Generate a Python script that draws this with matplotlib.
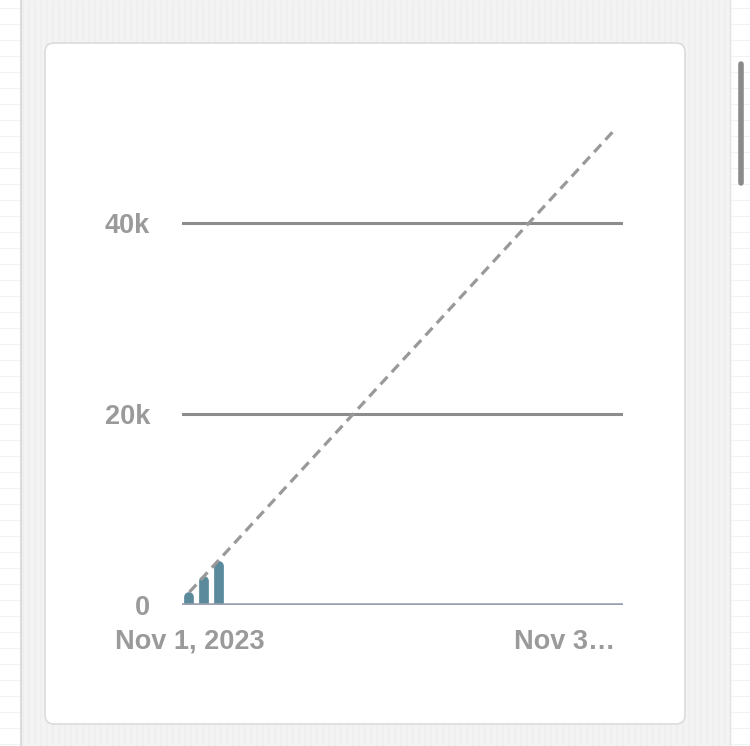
import matplotlib
matplotlib.use("Agg")
import matplotlib.pyplot as plt
from matplotlib.patches import Rectangle, FancyBboxPatch
from matplotlib.transforms import offset_copy

# data
days = list(range(30))                 # Nov 1 .. Nov 30
bar_days = [0, 1, 2]
bar_values = [1350, 3000, 4600]
trend_days = [0, 29]
trend_values = [1350, 49900]
y_ticks = [0, 20000, 40000]
y_labels = ["0", "20k", "40k"]
x_ticks = [0, 29]
x_labels = ["Nov 1, 2023", "Nov 3\u2026"]

bar_color = "#5b8a9c"
grid_color = "#8c8c8c"
text_color = "#9a9a9a"

plt.rcParams['font.family'] = ['Liberation Sans', 'DejaVu Sans']

fig = plt.figure(figsize=(7.5, 7.46), dpi=100)
W, H = 750, 746

# page background, in pixel coords
bg = fig.add_axes([0, 0, 1, 1])
bg.set_xlim(0, W)
bg.set_ylim(H, 0)
bg.axis("off")
bg.add_patch(Rectangle((0, 0), W, H, color="white", zorder=0))
for y in range(8, H, 16):
    bg.plot([0, 20], [y, y], color="#f2f2f2", lw=0.8, zorder=1)
    bg.plot([731, W], [y, y], color="#f2f2f2", lw=0.8, zorder=1)
bg.add_patch(Rectangle((22, 0), 708, H, color="#efeff0", zorder=1))
for x in range(24, 730, 6):
    bg.add_patch(Rectangle((x, 0), 3, H, color="#f3f3f4", zorder=1.5))
bg.plot([21, 21], [0, H], color="#dcdcde", lw=1.5, zorder=2)
bg.plot([730, 730], [0, H], color="#e4e4e6", lw=1.0, zorder=2)
card = FancyBboxPatch((53, 51), 624, 665, boxstyle="round,pad=8,rounding_size=9",
                      facecolor="white", edgecolor="#dcdcdc", lw=1.2, zorder=3)
bg.add_patch(card)
bg.plot([740.5, 740.5], [64, 183], color="#8a8a8a", lw=4, solid_capstyle="round", zorder=3)

# chart
ax = fig.add_axes([182 / W, (H - 605) / H, 441 / W, 525 / H])
ax.set_xlim(-0.5, 29.5)
ax.set_ylim(0, 55000)
ax.patch.set_visible(False)
for s in ax.spines.values():
    s.set_visible(False)

for yv in y_ticks[1:]:
    ax.axhline(yv, color=grid_color, lw=2.2, zorder=1)

bar_lw = 7.0
shift = offset_copy(ax.transData, fig=fig, y=-bar_lw / 2, units="points")
for d, v in zip(bar_days, bar_values):
    ax.plot([d, d], [-5000, v], color=bar_color, lw=bar_lw,
            solid_capstyle="round", transform=shift, zorder=2)

ax.axhline(0, color="#9ba1b1", lw=2.6, zorder=3)

ax.plot(trend_days, trend_values, color="#999999", lw=2.3,
        linestyle=(0, (3.2, 2.0)), zorder=4)

ax.set_yticks(y_ticks)
ax.set_yticklabels(y_labels)
ax.set_xticks(x_ticks)
ax.set_xticklabels(x_labels)
ax.tick_params(axis="both", length=0, labelsize=19.5, labelcolor=text_color)
ax.tick_params(axis="y", pad=23)
ax.tick_params(axis="x", pad=17)
for lab in ax.get_yticklabels() + ax.get_xticklabels():
    lab.set_fontweight("bold")
ax.get_xticklabels()[-1].set_horizontalalignment("right")

fig.savefig("out.png", dpi=100)
